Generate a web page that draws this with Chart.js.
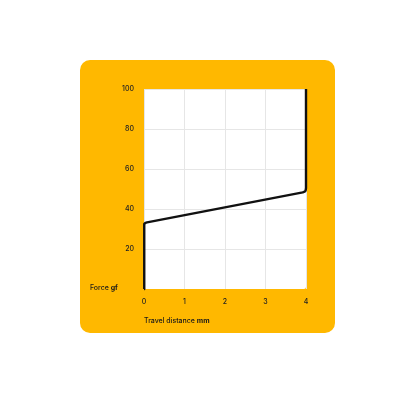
<!DOCTYPE html>
<html><head><meta charset="utf-8">
<script src="https://cdn.jsdelivr.net/npm/chart.js@4"></script>
<style>html,body{margin:0;padding:0;background:#fff;}#wrap{width:400px;height:400px;}</style>
</head><body><div id="wrap"><canvas id="c" width="400" height="400"></canvas></div>
<script>
const travelMm = [0, 0, 0.012, 0.035, 0.075, 3.92, 3.965, 3.99, 4, 4];
const forceGf  = [0, 31.4, 32.5, 33.05, 33.3, 48.3, 48.65, 49.2, 50.5, 100];
const xTicks = [0, 1, 2, 3, 4];
const yTicks = [20, 40, 60, 80, 100];
const yTitle = ['Force ', 'gf'];
const xTitle = ['Travel distance ', 'mm'];

const FONT = 'Inter, "Noto Sans", sans-serif';
const ORANGE = '#FFB800';

function rr(ctx, x, y, w, h, r) {
  ctx.beginPath();
  ctx.moveTo(x + r, y);
  ctx.arcTo(x + w, y, x + w, y + h, r);
  ctx.arcTo(x + w, y + h, x, y + h, r);
  ctx.arcTo(x, y + h, x, y, r);
  ctx.arcTo(x, y, x + w, y, r);
  ctx.closePath();
}

const bgPlugin = {
  id: 'bg',
  beforeDraw(chart) {
    const {ctx, chartArea: a} = chart;
    ctx.save();
    ctx.fillStyle = ORANGE;
    rr(ctx, a.left - 64, a.top - 29, (a.right - a.left) + 93, (a.bottom - a.top) + 73, 10);
    ctx.fill();
    ctx.fillStyle = '#ffffff';
    rr(ctx, a.left, a.top, a.right - a.left, a.bottom - a.top, 2);
    ctx.fill();
    ctx.restore();
  },
  afterDraw(chart) {
    const {ctx, chartArea: a} = chart;
    ctx.save();
    ctx.fillStyle = '#1a1a1a';
    ctx.textBaseline = 'middle';
    const drawMixed = (parts, x, y) => {
      ctx.font = '500 7px ' + FONT;
      ctx.fillText(parts[0], x, y);
      const w = ctx.measureText(parts[0]).width;
      ctx.font = '700 7px ' + FONT;
      ctx.fillText(parts[1], x + w, y);
    };
    drawMixed(yTitle, a.left - 54, a.bottom - 1.5);
    drawMixed(xTitle, a.left, a.bottom + 32);
    ctx.restore();
  }
};

new Chart(document.getElementById('c'), {
  type: 'line',
  data: {
    datasets: [{
      data: travelMm.map((x, i) => ({x: x, y: forceGf[i]})),
      borderColor: '#111111',
      borderWidth: 2.4,
      pointRadius: 0,
      tension: 0,
      fill: false,
      clip: false,
      borderJoinStyle: 'round',
      borderCapStyle: 'butt'
    }]
  },
  options: {
    responsive: false,
    animation: false,
    devicePixelRatio: 1,
    layout: {padding: {left: 80, top: 89, right: 94, bottom: 91}},
    plugins: {legend: {display: false}, tooltip: {enabled: false}},
    scales: {
      x: {
        type: 'linear', min: 0, max: 4,
        afterFit: s => { s.height = 20; },
        afterBuildTicks: s => { s.ticks = xTicks.map(v => ({value: v})); },
        border: {display: false},
        grid: {color: '#e6e6e6', lineWidth: 1, drawTicks: false},
        ticks: {padding: 9, color: '#222', font: {family: FONT, size: 7, weight: '500'}}
      },
      y: {
        type: 'linear', min: 0, max: 100,
        afterFit: s => { s.width = 64; },
        afterBuildTicks: s => { s.ticks = [0].concat(yTicks).map(v => ({value: v})); },
        border: {display: false},
        grid: {color: c => c.tick && c.tick.value === 0 ? 'rgba(0,0,0,0)' : '#e6e6e6', lineWidth: 1, drawTicks: false},
        ticks: {padding: 10, color: '#222', font: {family: FONT, size: 7, weight: '500'},
          callback: v => v === 0 ? '' : String(v)}
      }
    }
  },
  plugins: [bgPlugin]
});
</script></body></html>
